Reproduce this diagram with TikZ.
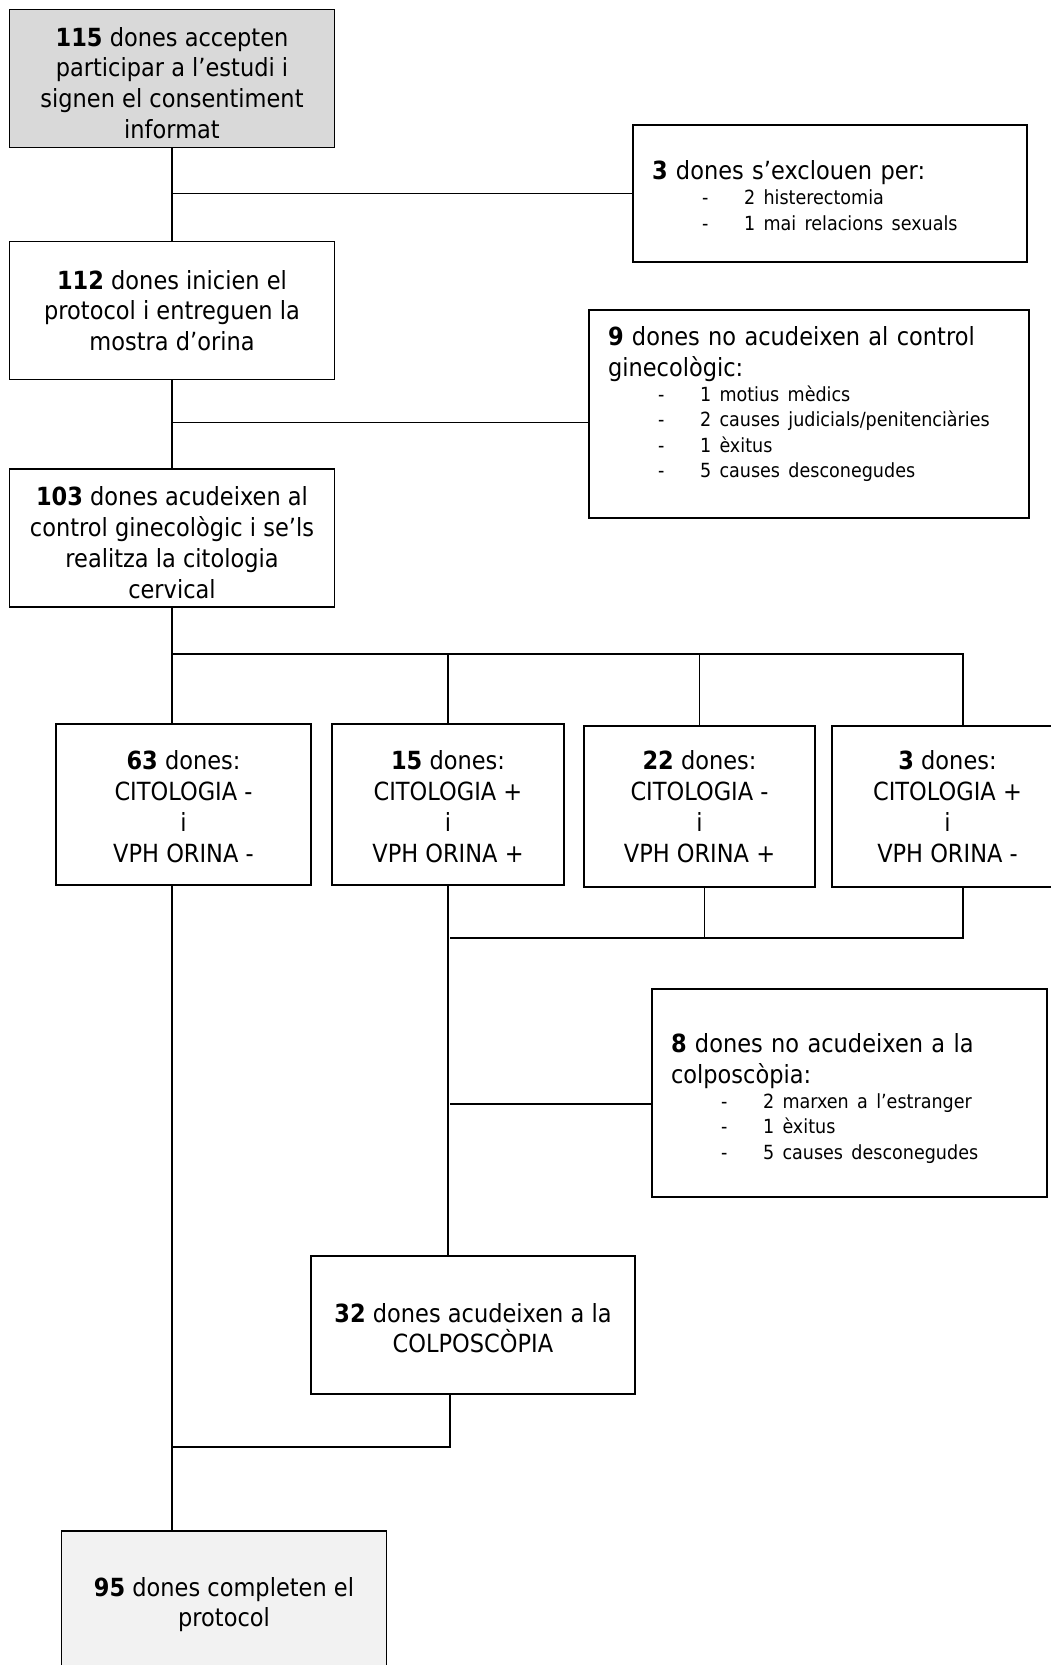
\documentclass[tikz,border=0pt]{standalone}
\usepackage{fontspec}
\setmainfont{DejaVu Sans}[FakeStretch=0.9]
\usetikzlibrary{positioning}
\definecolor{flowstart}{HTML}{D9D9D9}
\definecolor{flowend}{HTML}{F2F2F2}
\newcommand{\boxfont}{\fontsize{25}{30.8}\selectfont}
\newcommand{\causefont}{\fontsize{19.5}{25.2}\selectfont}
\newcommand{\causa}[1]{\hspace*{50pt}\makebox[42pt][l]{-}#1}
\newcommand{\headstrut}[1]{\rule{0pt}{#1}}
\newcommand{\footstrut}[1]{\rule[-#1]{0pt}{#1}}

\begin{document}
\begin{tikzpicture}[
        x=1pt, y=-1pt,
        flowbox/.style={
            draw,
            line width=1.6pt,
            align=center,
            inner sep=0pt,
            minimum width=325pt,
            minimum height=138pt,
            font=\boxfont
        },
        groupbox/.style={flowbox, minimum width=232pt, minimum height=161pt},
        listbox/.style={
            draw,
            line width=1.6pt,
            align=left,
            inner xsep=19pt,
            inner ysep=0pt,
            font=\boxfont
        },
        link/.style={line width=1.2pt}
    ]
        \clip (0,0) rectangle (1051,1665);

        \node[flowbox, fill=flowstart] (acceptades) at (172,78.5)
            {\headstrut{28pt}\textbf{115} dones accepten\\participar a l’estudi i\\signen el consentiment\\informat};
        \node[listbox, text width=356pt, minimum height=137pt] (exclosos) at (830,193.5)
            {\headstrut{23pt}\textbf{3} dones s’exclouen per:\par
             {\causefont\causa{2 histerectomia}\\\causa{1 mai relacions sexuals}\par}};
        \node[flowbox] (inicien) at (172,310.5)
            {\textbf{112} dones inicien el\\protocol i entreguen la\\mostra d’orina};
        \node[listbox, text width=402pt, minimum height=208pt] (noginec) at (809,414)
            {\textbf{9} dones no acudeixen al control\\ginecològic:\par
             {\causefont\causa{1 motius mèdics}\\\causa{2 causes judicials/penitenciàries}\\
              \causa{1 èxitus}\\\causa{5 causes desconegudes}\footstrut{24pt}\par}};
        \node[flowbox] (citologia) at (172,538)
            {\headstrut{28pt}\textbf{103} dones acudeixen al\\control ginecològic i se’ls\\realitza la citologia\\cervical};

        \node[groupbox, minimum width=255pt] (negneg) at (183.5,804.5)
            {\headstrut{23pt}\textbf{63} dones:\\CITOLOGIA -\\i\\VPH ORINA -};
        \node[groupbox] (pospos) at (448,804.5)
            {\headstrut{23pt}\textbf{15} dones:\\CITOLOGIA +\\i\\VPH ORINA +};
        \node[groupbox, minimum width=231pt] (negpos) at (699.5,806.5)
            {\textbf{22} dones:\\CITOLOGIA -\\i\\VPH ORINA +};
        \node[groupbox, minimum width=231pt] (posneg) at (947.5,806.5)
            {\textbf{3} dones:\\CITOLOGIA +\\i\\VPH ORINA -};

        \node[listbox, text width=357pt, minimum height=208pt] (nocolpo) at (849.5,1093)
            {\headstrut{30pt}\textbf{8} dones no acudeixen a la\\colposcòpia:\par
             {\causefont\causa{2 marxen a l’estranger}\\\causa{1 èxitus}\\
              \causa{5 causes desconegudes}\par}};
        \node[flowbox, minimum width=324pt] (colpo) at (473,1325)
            {\headstrut{25.5pt}\textbf{32} dones acudeixen a la\\COLPOSCÒPIA};
        \node[flowbox, fill=flowend] (completen) at (224,1600)
            {\headstrut{28pt}\textbf{95} dones completen el\\protocol};

        \coordinate (j2) at (172,422.5);
        \coordinate (bus) at (172,654);
        \coordinate (bus2) at (450,938);
        \coordinate (j3) at (450,1104);
        \coordinate (bus3) at (172,1447);

        \draw[link] (acceptades) -- (inicien);
        \draw[link] (acceptades.south |- exclosos.west) -- (exclosos.west);
        \draw[link] (inicien) -- (citologia);
        \draw[link] (j2) -- (j2 -| noginec.west);

        \draw[link] (citologia.south) -- (citologia.south |- negneg.north);
        \draw[link] (bus) -| ([xshift=15.5pt]posneg.north);
        \draw[link] (bus -| pospos.north) -- (pospos.north);
        \draw[link] (bus -| negpos.north) -- (negpos.north);

        \draw[link] (pospos.south) -- (pospos.south |- colpo.north);
        \draw[link] (bus2) -| ([xshift=15.5pt]posneg.south);
        \draw[link] ([xshift=5pt]negpos.south) -- ([xshift=5pt]negpos.south |- bus2);
        \draw[link] (j3) -- (j3 -| nocolpo.west);

        \draw[link] ([xshift=-23pt]colpo.south) |- (bus3);
        \draw[link] (bus3 |- negneg.south) -- (bus3 |- completen.north);
    \end{tikzpicture}
\end{document}
